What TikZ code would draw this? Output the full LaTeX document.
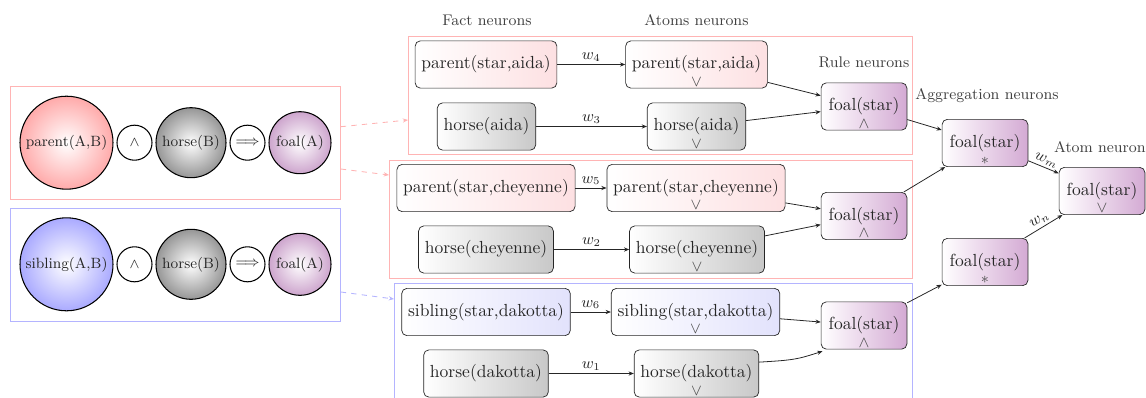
\documentclass[tikz,border=0pt]{standalone}
\usetikzlibrary{arrows.meta,shapes.geometric}
\definecolor{redf}{RGB}{253,224,226}
\definecolor{greyf}{RGB}{200,200,200}
\definecolor{bluef}{RGB}{226,226,252}
\definecolor{purf}{RGB}{212,170,212}
\definecolor{redc}{RGB}{255,170,170}
\definecolor{bluec}{RGB}{170,170,255}
\definecolor{greyc}{RGB}{150,150,150}
\definecolor{purc}{RGB}{205,165,205}
\definecolor{redline}{RGB}{255,180,180}
\definecolor{blueline}{RGB}{180,180,255}
\tikzset{
  nbox/.style={draw=black!85, rounded corners=3pt, minimum height=27pt, inner xsep=3.6pt, inner ysep=2pt, font=\normalsize, text=black!85},
  factred/.style={nbox, left color=white, right color=redf},
  factgrey/.style={nbox, left color=white, right color=greyf},
  factblue/.style={nbox, left color=white, right color=bluef},
  factpur/.style={nbox, left color=white, right color=purf, minimum width=49pt},
  orlab/.style={label={[anchor=south, inner sep=1pt, font=\small, text=black!70]south:{$\vee$}}},
  andlab/.style={label={[anchor=south, inner sep=1pt, font=\small, text=black!70]south:{$\wedge$}}},
  starlab/.style={label={[anchor=south, inner sep=1pt, font=\small, text=black!70]south:{$*$}}},
  title/.style={font=\fontsize{8.8}{10}\selectfont, text=black!75},
  circ/.style={circle, draw=black, line width=0.6pt, inner sep=0pt, font=\fontsize{8.5}{10}\selectfont, text=black!85},
  ring/.style={circ, minimum size=20pt, fill=white},
  grp/.style={line width=0.5pt},
  arr/.style={-{Stealth[length=3pt,width=2.4pt]}, black!85, line width=0.45pt},
  dlink/.style={dashed, -{Stealth[length=3pt,width=2.4pt]}, line width=0.5pt},
  wl/.style={font=\small, text=black!85, inner sep=1.5pt}
}
\begin{document}
\begin{tikzpicture}[x=0.571pt,y=-0.571pt]
\useasboundingbox (0,0) rectangle (1146,397);
% left panels
\node[draw=redline, grp, minimum width=330*0.571pt, minimum height=113*0.571pt, anchor=north west] (lr) at (10,86) {};
\node[draw=blueline, grp, minimum width=330*0.571pt, minimum height=113*0.571pt, anchor=north west] (lb) at (10,208) {};
% top row circles
\node[circ, minimum size=93*0.571pt, inner color=white, outer color=redc] (c1) at (66.5,142.7) {parent(A,B)};
\node[ring] (a1) at (134.5,142.7) {$\wedge$};
\node[circ, minimum size=70*0.571pt, inner color=white, outer color=greyc] (h1) at (191,142.7) {horse(B)};
\node[ring] (i1) at (247.5,142.7) {$\Longrightarrow$};
\node[circ, minimum size=62*0.571pt, inner color=white, outer color=purc] (f1) at (300,142.7) {foal(A)};
% bottom row circles
\node[circ, minimum size=93*0.571pt, inner color=white, outer color=bluec] (c2) at (66.5,264.3) {sibling(A,B)};
\node[ring] (a2) at (134.5,264.3) {$\wedge$};
\node[circ, minimum size=70*0.571pt, inner color=white, outer color=greyc] (h2) at (191,264.3) {horse(B)};
\node[ring] (i2) at (247.5,264.3) {$\Longrightarrow$};
\node[circ, minimum size=62*0.571pt, inner color=white, outer color=purc] (f2) at (300,264.3) {foal(A)};
% right group boxes
\node[draw=redline, grp, minimum width=504*0.571pt, minimum height=118*0.571pt, anchor=north west] (g1) at (408,36) {};
\node[draw=redline, grp, minimum width=523*0.571pt, minimum height=118*0.571pt, anchor=north west] (g2) at (389,160) {};
\node[draw=blueline, grp, minimum width=518*0.571pt, minimum height=130*0.571pt, anchor=north west] (g3) at (394,283) {};
% titles
\node[title] (t1) at (487,20) {Fact neurons};
\node[title] (t2) at (696.5,20) {Atoms neurons};
\node[title] (t3) at (864,62) {Rule neurons};
\node[title] (t4) at (987,96) {Aggregation neurons};
\node[title, anchor=east, inner sep=0pt] (t5) at (1146,147) {Atom neuron};
% fact neurons
\node[factred] (fp1) at (486,64.5) {parent(star,aida)};
\node[factgrey] (fh1) at (486.5,126.5) {horse(aida)};
\node[factred] (fp2) at (486,188) {parent(star,cheyenne)};
\node[factgrey] (fh2) at (486,249.5) {horse(cheyenne)};
\node[factblue] (fs3) at (486,312) {sibling(star,dakotta)};
\node[factgrey] (fh3) at (486,373.5) {horse(dakotta)};
% atom neurons
\node[factred, orlab] (ap1) at (696.5,64.5) {parent(star,aida)};
\node[factgrey, orlab] (ah1) at (696.5,126.5) {horse(aida)};
\node[factred, orlab] (ap2) at (696,188) {parent(star,cheyenne)};
\node[factgrey, orlab] (ah2) at (697,249.5) {horse(cheyenne)};
\node[factblue, orlab] (as3) at (695.5,312) {sibling(star,dakotta)};
\node[factgrey, orlab] (ah3) at (696.5,373.5) {horse(dakotta)};
% rule neurons
\node[factpur, andlab] (r1) at (864,106.5) {foal(star)};
\node[factpur, andlab] (r2) at (864,216) {foal(star)};
\node[factpur, andlab] (r3) at (864,325.5) {foal(star)};
% aggregation neurons
\node[factpur, starlab] (g1n) at (985,143) {foal(star)};
\node[factpur, starlab] (g2n) at (985,262) {foal(star)};
% atom neuron
\node[factpur, orlab] (fin) at (1102,191) {foal(star)};
% dashed links
\draw[dlink, redline] (lr.east |- 0,126.7) -- (g1.west |- 0,120);
\draw[dlink, redline] (lr.east |- 0,169) -- (g2.west |- 0,175);
\draw[dlink, blueline] (lb.east |- 0,292) -- (g3.west |- 0,299);
% fact -> atom
\draw[arr] (fp1) -- node[wl, above] {$w_4$} (ap1);
\draw[arr] (fh1) -- node[wl, above] {$w_3$} (ah1);
\draw[arr] (fp2) -- node[wl, above] {$w_5$} (ap2);
\draw[arr] (fh2) -- node[wl, above] {$w_2$} (ah2);
\draw[arr] (fs3) -- node[wl, above] {$w_6$} (as3);
\draw[arr] (fh3) -- node[wl, above] {$w_1$} (ah3);
% atom -> rule
\draw[arr] (ap1) -- (r1);
\draw[arr] (ah1) -- (r1);
\draw[arr] (ap2) -- (r2);
\draw[arr] (ah2) -- (r2);
\draw[arr] (as3) -- (r3);
\draw[arr] ([yshift=6.5pt]ah3.east) .. controls +(35,-2) and +(-25,8) .. ([xshift=1pt,yshift=-1pt]r3.south west);
% rule -> aggregation
\draw[arr] (r1) -- (g1n);
\draw[arr] (r2) -- (g1n);
\draw[arr] (r3) -- (g2n);
% aggregation -> atom
\draw[arr] (g1n) -- node[wl, above, sloped] {$w_m$} (fin);
\draw[arr] (g2n) -- node[wl, above, sloped] {$w_n$} (fin);
\end{tikzpicture}
\end{document}
